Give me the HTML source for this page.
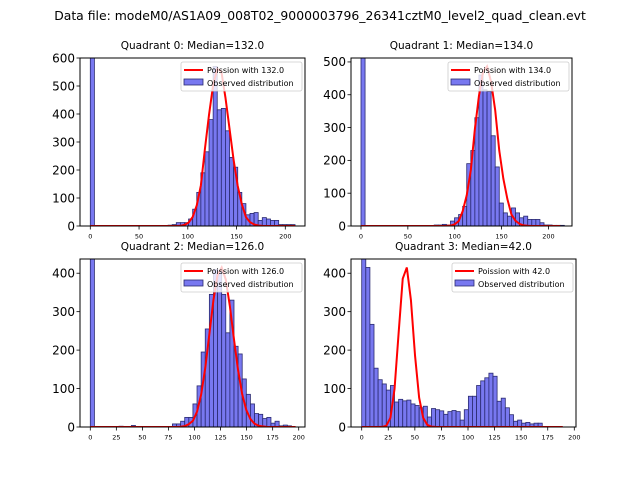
<!DOCTYPE html>
<html><head><meta charset="utf-8"><style>
body{margin:0;background:#fff;}
svg{display:block;font-family:"DejaVu Sans","Liberation Sans",sans-serif;}
</style></head><body>
<svg id="fig" width="640" height="480" viewBox="0 0 640 480">
<rect width="640" height="480" fill="#fff"/>
<text x="320" y="20" text-anchor="middle" font-size="12.4">Data file: modeM0/AS1A09_008T02_9000003796_26341cztM0_level2_quad_clean.evt</text>
</svg>
<script>
// Quadrant 0
const q0Edges0 = 0, q0BinWidth = 4.2;
const q0Counts = [700,0,0,0,0,0,0,0,0,0,0,0,0,0,0,0,0,0,0,3,5,12,12,12,25,60,120,190,265,380,570,415,420,340,245,210,120,80,40,45,48,20,30,25,20,20,5,5,5,5];
// Quadrant 1
const q1BinWidth = 4.34;
const q1Counts = [600,0,0,0,0,0,0,0,0,0,0,0,0,0,0,0,0,0,3,3,5,3,15,25,35,60,190,230,330,460,415,410,275,180,70,40,30,55,40,25,30,20,20,20,10,3,3,2,2,2];
// Quadrant 2
const q2BinWidth = 3.94;
const q2Counts = [500,0,0,0,0,0,0,2,0,0,4,0,0,0,0,0,0,0,0,0,8,8,15,25,25,60,107,195,255,345,410,405,345,245,330,210,190,125,85,60,35,33,22,25,10,15,3,5,3,0];
// Quadrant 3
const q3BinWidth = 3.86;
const q3Counts = [500,415,267,153,123,112,96,108,65,72,68,70,60,56,50,54,26,48,45,42,33,40,43,40,18,45,80,80,108,120,128,140,132,67,75,50,32,15,18,10,12,8,10,10,0,0,0,0,0,0];
// Poisson model parameters
const medians = [132.0, 134.0, 126.0, 42.0];
const peaks = [565, 490, 415, 415];
const curveMax = [210, 217, 197, 193];
const yTicks = [[0,100,200,300,400,500,600],[0,100,200,300,400,500],[0,100,200,300,400],[0,100,200,300,400]];
const xTicks = [[0,50,100,150,200],[0,50,100,150,200],[0,25,50,75,100,125,150,175,200],[0,25,50,75,100,125,150,175,200]];

const NS="http://www.w3.org/2000/svg";
const svg=document.getElementById('fig');
function mk(tag,attrs,parent){const e=document.createElementNS(NS,tag);for(const k in attrs)e.setAttribute(k,attrs[k]);(parent||svg).appendChild(e);return e;}

const panels=[
 {L:80,R:305,T:58,B:226,x0:90.3,xs:0.975,ymax:600,counts:q0Counts,bw:q0BinWidth},
 {L:351,R:572,T:58,B:226,x0:361,xs:0.937,ymax:512,counts:q1Counts,bw:q1BinWidth},
 {L:80,R:305,T:259,B:427,x0:90.3,xs:1.042,ymax:437,counts:q2Counts,bw:q2BinWidth},
 {L:351,R:576,T:259,B:427,x0:361.7,xs:1.063,ymax:437,counts:q3Counts,bw:q3BinWidth}
];
function logPois(k,m){
  function lg(z){ if(z<0.5) return Math.log(Math.PI/Math.sin(Math.PI*z))-lg(1-z); z-=1; const g=7,c=[0.99999999999980993,676.5203681218851,-1259.1392167224028,771.32342877765313,-176.61556008,12.507343278686905,-0.13857109526572012,9.9843695780195716e-6,1.5056327351493116e-7]; let x=c[0]; for(let i=1;i<9;i++)x+=c[i]/(z+i); const t=z+g+0.5; return 0.5*Math.log(2*Math.PI)+(z+0.5)*Math.log(t)-t+Math.log(x);}
  return k*Math.log(m)-m-lg(k+1);
}
panels.forEach((p,qi)=>{
  const g=mk('g',{});
  
  
  const X=v=>p.x0+v*p.xs;
  const Y=v=>p.B-(v/p.ymax)*(p.B-p.T);
  const clip=mk('clipPath',{id:'c'+qi},g);
  mk('rect',{x:p.L,y:p.T,width:p.R-p.L,height:p.B-p.T},clip);
  const bars=mk('g',{'clip-path':'url(#c'+qi+')'},g);
  p.counts.forEach((c,i)=>{
    if(c<=0)return;
    const x1=X(i*p.bw),x2=X((i+1)*p.bw),yt=Y(c);
    const r=mk('rect',{x:x1,y:yt,width:x2-x1,height:p.B-yt,fill:'#7878f0',stroke:'#2a2a70','stroke-width':0.8},bars);
    
    
  });
  const m=medians[qi],pk=peaks[qi],peakLog=logPois(Math.round(m),m);
  let d='';
  for(let k=0;k<=curveMax[qi];k+=p.bw){
    const v=pk*Math.exp(logPois(Math.round(k),m)-peakLog);
    d+=(d?'L':'M')+X(k).toFixed(2)+','+Y(v).toFixed(2);
  }
  const pc=mk('path',{d:d,fill:'none',stroke:'#ff0000','stroke-width':2,'clip-path':'url(#c'+qi+')'},g);
  
  
  const fr=mk('rect',{x:p.L,y:p.T,width:p.R-p.L,height:p.B-p.T,fill:'none',stroke:'#000','stroke-width':1},g);
  
  
  yTicks[qi].forEach(t=>{
    const y=Y(t);
    mk('line',{x1:p.L-3.5,x2:p.L,y1:y,y2:y,stroke:'#000','stroke-width':0.8},g);
    const tx=mk('text',{x:p.L-5,y:y+4.3,'text-anchor':'end','font-size':12},g);
    tx.textContent=t;
    
    
  });
  xTicks[qi].forEach(t=>{
    const x=X(t);
    mk('line',{x1:x,x2:x,y1:p.B,y2:p.B+3.5,stroke:'#000','stroke-width':0.8},g);
    const tx=mk('text',{x:x,y:p.B+12.5,'text-anchor':'middle','font-size':6.5},g);
    tx.textContent=t;
    
    
  });
  const ti=mk('text',{x:(p.L+p.R)/2,y:p.T-9,'text-anchor':'middle','font-size':10.5},g);
  ti.textContent='Quadrant '+qi+': Median='+m.toFixed(1);
  
  
  const lx=p.R-124,ly=p.T+4;
  const lg=mk('g',{},g);
  
  
  mk('rect',{x:lx,y:ly,width:121,height:29,fill:'#fff','fill-opacity':0.8,stroke:'#ccc','stroke-width':0.8,rx:2},lg);
  mk('line',{x1:lx+3,x2:lx+22,y1:ly+8,y2:ly+8,stroke:'#ff0000','stroke-width':2},lg);
  const t1=mk('text',{x:lx+26,y:ly+10.8,'font-size':8},lg);
  t1.textContent='Poission with '+m.toFixed(1);
  mk('rect',{x:lx+3,y:ly+17,width:19,height:6,fill:'#7878f0',stroke:'#2a2a70','stroke-width':0.8},lg);
  const t2=mk('text',{x:lx+26,y:ly+23.8,'font-size':8},lg);
  t2.textContent='Observed distribution';
});
</script>
</body></html>
